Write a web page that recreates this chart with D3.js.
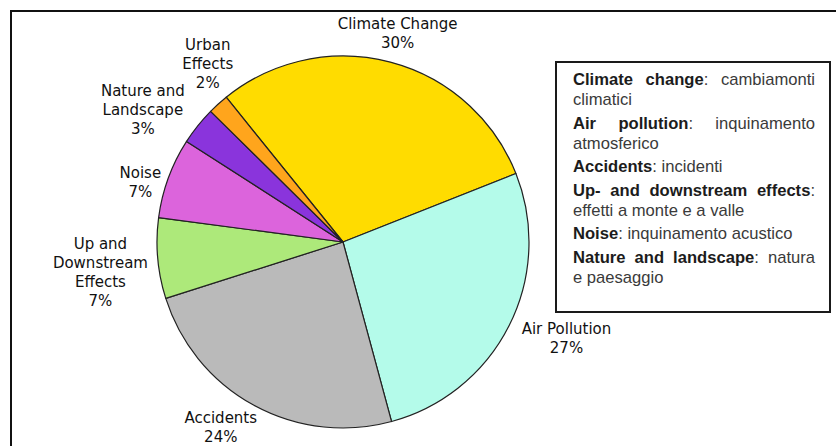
<!DOCTYPE html>
<html>
<head>
<meta charset="utf-8">
<script src="https://cdn.jsdelivr.net/npm/d3@7"></script>
<style>
  html, body { margin: 0; padding: 0; background: #fff; }
  svg { display: block; }
</style>
</head>
<body>
<svg id="chart" width="836" height="446"></svg>
<script>
// data (clockwise, starting with Climate Change)
const categories = ['Climate Change', 'Air Pollution', 'Accidents', 'Up and Downstream Effects', 'Noise', 'Nature and Landscape', 'Urban Effects'];
const shares = [29.8, 26.8, 24.3, 7.0, 7.0, 3.3, 1.8];
const shareLabels = ['30%', '27%', '24%', '7%', '7%', '3%', '2%'];
const labelLines = [
    ['Climate Change'],
    ['Air Pollution'],
    ['Accidents'],
    ['Up and', 'Downstream', 'Effects'],
    ['Noise'],
    ['Nature and', 'Landscape'],
    ['Urban', 'Effects']
];
const legendTerms = ['Climate change', 'Air pollution', 'Accidents', 'Up- and downstream effects', 'Noise', 'Nature and landscape'];
const legendTranslations = ['cambiamonti climatici', 'inquinamento atmosferico', 'incidenti', 'effetti a monte e a valle', 'inquinamento acustico', 'natura e paesaggio'];

const colors = ['#ffdc00', '#b4fbea', '#bababa', '#ade97a', '#dc64dc', '#8a34dc', '#ffa51c'];

const svg = d3.select('#chart');

// frame (only the left and top edges show in the picture)
svg.append('path')
    .attr('d', 'M11,446 V11 H836')
    .attr('fill', 'none')
    .attr('stroke', '#111')
    .attr('stroke-width', 2);

// ---- pie ----
const cx = 343, cy = 242, radius = 186;
const startAngle = -38.9 * Math.PI / 180;

const pie = d3.pie()
    .sort(null)
    .value(d => d)
    .startAngle(startAngle)
    .endAngle(startAngle + 2 * Math.PI);
const arcs = pie(shares);

const arc = d3.arc().innerRadius(0).outerRadius(radius);

const pieGroup = svg.append('g').attr('transform', `translate(${cx},${cy})`);

pieGroup.selectAll('path.slice')
    .data(arcs)
    .enter()
    .append('path')
    .classed('slice', true)
    .attr('d', arc)
    .attr('fill', (d, i) => colors[i])
    .attr('stroke', '#222')
    .attr('stroke-width', 1.2)
    .attr('stroke-linejoin', 'round');

// labels sit just outside the rim, pushed out by half their own box
const labelGap = 8;
const lineHeight = 19;
const labelNudge = [[-10, -3], [10, 1], [-12, -2], [-2, 10], [-1, 14], [-16, 7], [12, -13]];

arcs.forEach((d, i) => {
    let lines = labelLines[i].concat([shareLabels[i]]);
    let a = (d.startAngle + d.endAngle) / 2;
    let t = pieGroup.append('text')
        .attr('text-anchor', 'middle')
        .style('font-family', '"DejaVu Sans", Verdana, sans-serif')
        .style('font-size', '15px')
        .attr('fill', '#111');
    lines.forEach(line => t.append('tspan').text(line));
    let w = d3.max(t.selectAll('tspan').nodes(), n => n.getComputedTextLength());
    let h = lines.length * lineHeight;
    let ax = Math.sin(a) * (radius + labelGap);
    let ay = -Math.cos(a) * (radius + labelGap);
    let mx = ax + Math.sin(a) * w / 2 + labelNudge[i][0];
    let my = ay - Math.cos(a) * h / 2 + labelNudge[i][1];
    t.selectAll('tspan')
        .attr('x', mx)
        .attr('y', (l, j) => my - h / 2 + lineHeight * (j + 0.78));
});

// ---- legend box with justified text ----
const box = { x: 556, y: 62, w: 274, h: 250 };
svg.append('rect')
    .attr('x', box.x)
    .attr('y', box.y)
    .attr('width', box.w)
    .attr('height', box.h)
    .attr('fill', '#fff')
    .attr('stroke', '#1a1a1a')
    .attr('stroke-width', 2);

const textLeft = 573, textRight = 815;
const legendLine = 20, paraGap = 3.5;
const legendFont = '"Liberation Sans", Arial, sans-serif';
const legendSize = '16.6px';
const legend = svg.append('g');

function makeToken(parts) {
    let t = legend.append('text')
        .style('font-family', legendFont)
        .style('font-size', legendSize);
    parts.forEach(p => {
        t.append('tspan')
            .text(p.text)
            .attr('font-weight', p.bold ? 'bold' : 'normal')
            .attr('fill', p.bold ? '#1c1c1c' : '#3a3a3a');
    });
    return t;
}

let spaceProbe = legend.append('text').style('font-family', legendFont).style('font-size', legendSize).text('a a');
let aProbe = legend.append('text').style('font-family', legendFont).style('font-size', legendSize).text('aa');
const spaceW = spaceProbe.node().getComputedTextLength() - aProbe.node().getComputedTextLength();
spaceProbe.remove();
aProbe.remove();

let baseline = 85;
legendTerms.forEach((term, k) => {
    let tokens = [];
    let termWords = term.split(' ');
    termWords.forEach((wd, j) => {
        let parts = [{ text: wd, bold: true }];
        if (j === termWords.length - 1) parts.push({ text: ':', bold: false });
        tokens.push(parts);
    });
    legendTranslations[k].split(' ').forEach(wd => tokens.push([{ text: wd, bold: false }]));

    let nodes = tokens.map(p => makeToken(p));
    let widths = nodes.map(n => n.node().getComputedTextLength());

    // greedy wrap
    let rows = [];
    let cur = [], curW = 0;
    nodes.forEach((n, i) => {
        let need = cur.length ? curW + spaceW + widths[i] : widths[i];
        if (cur.length && need > textRight - textLeft) {
            rows.push(cur);
            cur = [i];
            curW = widths[i];
        } else {
            cur.push(i);
            curW = need;
        }
    });
    rows.push(cur);

    rows.forEach((row, r) => {
        let last = r === rows.length - 1;
        let total = d3.sum(row, i => widths[i]);
        let gap = (!last && row.length > 1) ? (textRight - textLeft - total) / (row.length - 1) : spaceW;
        let x = textLeft;
        row.forEach(i => {
            nodes[i].attr('x', x).attr('y', baseline);
            x += widths[i] + gap;
        });
        if (!last) baseline += legendLine;
    });
    baseline += legendLine + paraGap;
});
</script>
</body>
</html>
